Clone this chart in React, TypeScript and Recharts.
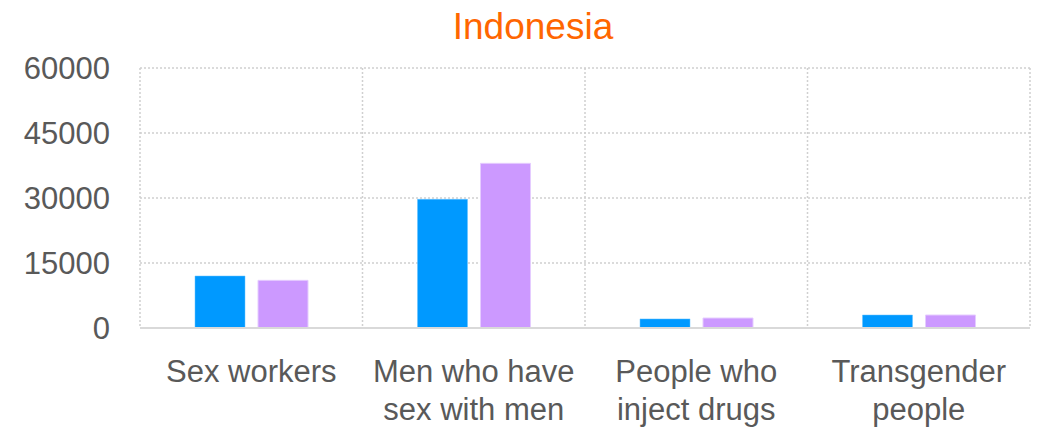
import React from "react";
import { BarChart, Bar, XAxis, YAxis, CartesianGrid } from "recharts";

const categories = ["Sex workers", "Men who have|sex with men", "People who|inject drugs", "Transgender|people"];
const seriesA = [12000, 29700, 2100, 3000];
const seriesB = [11000, 38000, 2300, 3000];
const yTicks = [0, 15000, 30000, 45000, 60000];
const title = "Indonesia";

const data = categories.map((c, i) => ({ name: c, a: seriesA[i], b: seriesB[i] }));

const FONT = "'Liberation Sans', Arial, sans-serif";

const XTick = (props: any) => {
  const { x, y, payload } = props;
  const lines = String(payload.value).split("|");
  return (
    <text x={x} y={y} textAnchor="middle" fill="#595959" fontSize={31} fontFamily={FONT}>
      {lines.map((l, i) => (
        <tspan key={i} x={x} dy={i === 0 ? 46 : 38}>{l}</tspan>
      ))}
    </text>
  );
};

export default function App() {
  return (
    <div style={{ position: "absolute", left: 0, top: 0, width: 1038, height: 429, background: "#fff" }}>
      <BarChart
        width={1038}
        height={429}
        data={data}
        margin={{ top: 68, right: 8, bottom: 41, left: 0 }}
        barSize={50}
        barGap={13}
      >
        <CartesianGrid
          stroke="#D0D0D0"
          strokeDasharray="2 2"
          strokeWidth={1.5}
          verticalCoordinatesGenerator={({ offset }: any) =>
            [0, 1, 2, 3, 4].map((i) => offset.left + (i * offset.width) / 4)
          }
        />
        <XAxis
          dataKey="name"
          height={60}
          interval={0}
          tickLine={false}
          axisLine={{ stroke: "#D9D9D9", strokeWidth: 2 }}
          tick={<XTick />}
        />
        <YAxis
          width={140}
          domain={[0, 60000]}
          ticks={yTicks}
          tickLine={false}
          axisLine={false}
          tickSize={0}
          tickMargin={30}
          tick={{ fill: "#595959", fontSize: 31, fontFamily: FONT }}
        />
        <Bar dataKey="a" fill="#0099FF" stroke="#66C2FF" strokeWidth={0.5} isAnimationActive={false} />
        <Bar dataKey="b" fill="#CC99FF" stroke="#E5CCFF" strokeWidth={1} isAnimationActive={false} />
      </BarChart>
      <svg width={1038} height={60} style={{ position: "absolute", left: 0, top: 0 }}>
        <text x={533} y={38.5} textAnchor="middle" fill="#FF6600" fontSize={37} fontFamily={FONT}>
          {title}
        </text>
      </svg>
    </div>
  );
}
